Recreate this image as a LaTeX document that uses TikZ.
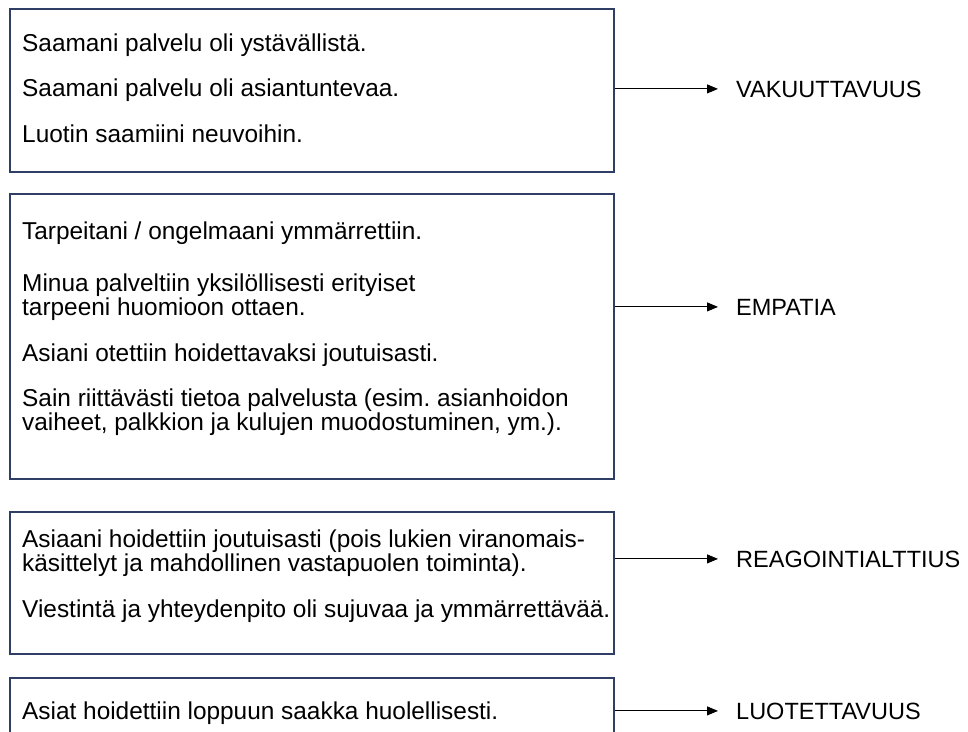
\documentclass[tikz,border=0pt]{standalone}
\usepackage{fontspec}
\setmainfont{Liberation Sans}
\usetikzlibrary{arrows.meta}
\frenchspacing
\definecolor{boxblue}{RGB}{47,62,100}
\tikzstyle{box}=[draw=boxblue,line width=1.6pt,anchor=north west,minimum width=604pt,inner sep=0]
\tikzstyle{t}=[anchor=base west,inner sep=0,font=\fontsize{24.4}{24}\selectfont]
\tikzstyle{lab}=[anchor=base west,inner sep=0,font=\fontsize{23.5}{24}\selectfont]
\tikzstyle{arr}=[-{Triangle[length=11pt,width=9pt]},line width=1pt,shorten >=18pt]

\begin{document}
\begin{tikzpicture}[x=1pt,y=-1pt]
	\useasboundingbox (0,0) rectangle (968,731);

                        \node[box,minimum height=163pt] (b1) at (9,8) {};
                        \node[box,minimum height=285pt] (b2) at (9,193) {};
                        \node[box,minimum height=142pt] (b3) at (9,511) {};
                        \node[box,minimum height=80pt] (b4) at (9,677) {};

                        \node[t] (s1) at (22,51) {Saamani palvelu oli ystävällistä.};
                        \node[t] (s2) at (22,96) {Saamani palvelu oli asiantuntevaa.};
                        \node[t] (s3) at (22,142) {Luotin saamiini neuvoihin.};

                        \node[t] (e1) at (22,239) {Tarpeitani / ongelmaani ymmärrettiin.};
                        \node[t] (e2) at (22,291) {Minua palveltiin yksilöllisesti erityiset};
                        \node[t] (e3) at (22,315) {tarpeeni huomioon ottaen.};
                        \node[t] (e4) at (22,361) {Asiani otettiin hoidettavaksi joutuisasti.};
                        \node[t] (e5) at (22,406) {Sain riittävästi tietoa palvelusta (esim. asianhoidon};
                        \node[t] (e6) at (22,430) {vaiheet, palkkion ja kulujen muodostuminen, ym.).};

                        \node[t] (r1) at (22,547) {Asiaani hoidettiin joutuisasti (pois lukien viranomais-};
                        \node[t] (r2) at (22,571) {käsittelyt ja mahdollinen vastapuolen toiminta).};
                        \node[t] (r3) at (22,617) {Viestintä ja yhteydenpito oli sujuvaa ja ymmärrettävää.};

                        \node[t] (l1) at (22,719) {Asiat hoidettiin loppuun saakka huolellisesti.};

                        \node[lab] (va) at (736,97) {VAKUUTTAVUUS};
                        \node[lab] (em) at (736,315) {EMPATIA};
                        \node[lab] (re) at (736,567) {REAGOINTIALTTIUS};
                        \node[lab] (lu) at (736,719) {LUOTETTAVUUS};

                        \draw[arr]
                        (b1.east |- va.west) -- (va.west);
                        \draw[arr]
                        (b2.east |- em.west) -- (em.west);
                        \draw[arr]
                        (b3.east |- re.west) -- (re.west);
                        \draw[arr]
                        (b4.east |- lu.west) -- (lu.west);

\end{tikzpicture}
\end{document}
